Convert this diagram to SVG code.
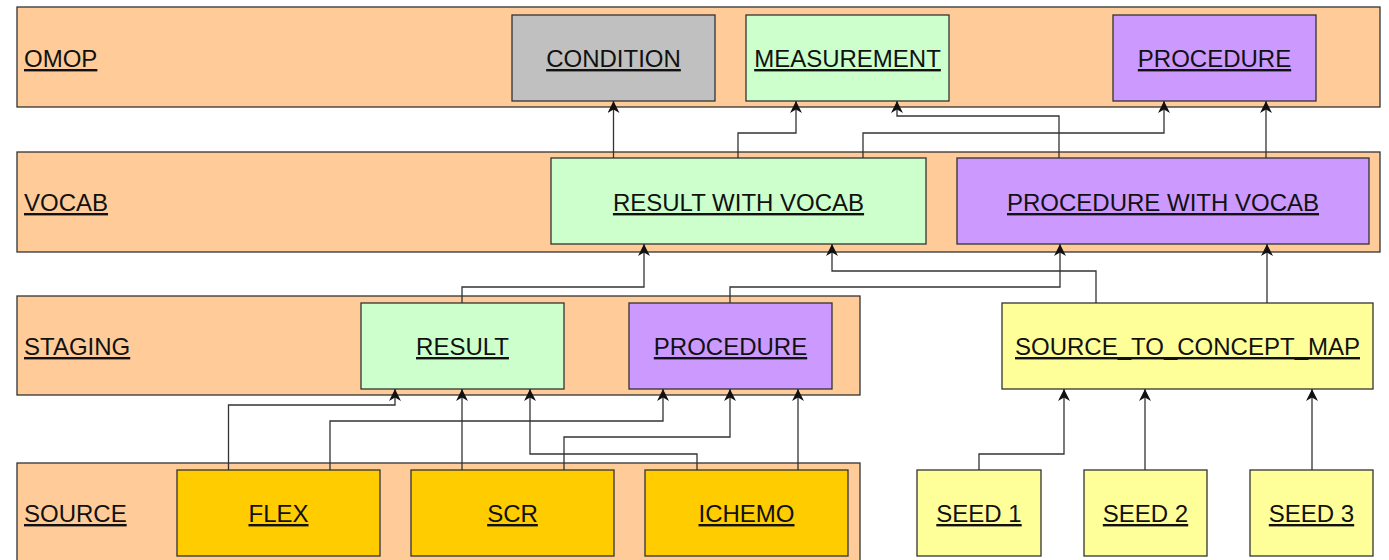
<svg xmlns="http://www.w3.org/2000/svg" width="1389" height="560" viewBox="0 0 1389 560">
<defs>
<marker id="arr" markerUnits="userSpaceOnUse" markerWidth="12" markerHeight="12" refX="10" refY="5" orient="auto" viewBox="0 0 10 10">
<path d="M0,0 L10,5 L0,10 L3,5 z" fill="#111"/>
</marker>
<style>
.lane{fill:#FFCC99;stroke:#333;stroke-width:1.3}
.nd{stroke:#333;stroke-width:1.3}
.t{font-family:"Liberation Sans",Arial,sans-serif;font-size:24px;fill:#111;text-decoration:underline}
.c{text-anchor:middle}
.gray{fill:#C0C0C0}.green{fill:#CCFFCC}.purple{fill:#CC99FF}.gold{fill:#FFCC00}.yellow{fill:#FFFF99}
.cn path{fill:none;stroke:#333;stroke-width:1.3;marker-end:url(#arr)}
</style>
</defs>
<rect width="1389" height="560" fill="#fff"/>
<g id="lanes">
<g id="lane-omop"><rect class="lane" x="17" y="7" width="1363" height="100"/><text class="t" x="24" y="67">OMOP</text></g>
<g id="lane-vocab"><rect class="lane" x="17" y="152" width="1363" height="100"/><text class="t" x="24" y="211">VOCAB</text></g>
<g id="lane-staging"><rect class="lane" x="17" y="296" width="843" height="99"/><text class="t" x="24" y="355">STAGING</text></g>
<g id="lane-source"><rect class="lane" x="17" y="463" width="843" height="110"/><text class="t" x="24" y="522">SOURCE</text></g>
</g>
<g id="n-condition"><rect class="nd gray" x="512" y="15" width="203" height="86"/><text class="t c" x="613.5" y="67">CONDITION</text></g>
<g id="n-measurement"><rect class="nd green" x="746" y="15" width="203" height="86"/><text class="t c" x="847.5" y="67">MEASUREMENT</text></g>
<g id="n-procedure-omop"><rect class="nd purple" x="1113" y="15" width="203" height="86"/><text class="t c" x="1214.5" y="67">PROCEDURE</text></g>
<g id="n-result-vocab"><rect class="nd green" x="551" y="158" width="375" height="86"/><text class="t c" x="738.5" y="211">RESULT WITH VOCAB</text></g>
<g id="n-procedure-vocab"><rect class="nd purple" x="957" y="158" width="412" height="86"/><text class="t c" x="1163" y="211">PROCEDURE WITH VOCAB</text></g>
<g id="n-result"><rect class="nd green" x="361" y="303" width="203" height="86"/><text class="t c" x="462.5" y="355">RESULT</text></g>
<g id="n-procedure-staging"><rect class="nd purple" x="629" y="303" width="203" height="86"/><text class="t c" x="730.5" y="355">PROCEDURE</text></g>
<g id="n-stcm"><rect class="nd yellow" x="1002" y="303" width="371" height="86"/><text class="t c" x="1187.5" y="355">SOURCE_TO_CONCEPT_MAP</text></g>
<g id="n-flex"><rect class="nd gold" x="177" y="470" width="203" height="86"/><text class="t c" x="278.5" y="522">FLEX</text></g>
<g id="n-scr"><rect class="nd gold" x="411" y="470" width="203" height="86"/><text class="t c" x="512.5" y="522">SCR</text></g>
<g id="n-ichemo"><rect class="nd gold" x="645" y="470" width="203" height="86"/><text class="t c" x="746.5" y="522">ICHEMO</text></g>
<g id="n-seed1"><rect class="nd yellow" x="917" y="470" width="124" height="86"/><text class="t c" x="979" y="522">SEED 1</text></g>
<g id="n-seed2"><rect class="nd yellow" x="1084" y="470" width="123" height="86"/><text class="t c" x="1145.5" y="522">SEED 2</text></g>
<g id="n-seed3"><rect class="nd yellow" x="1250" y="470" width="123" height="86"/><text class="t c" x="1311.5" y="522">SEED 3</text></g>
<g id="connectors" class="cn">
<path d="M613.5,158 V101"/>
<path d="M738,158 V133 H796 V101"/>
<path d="M863,158 V133 H1164 V101"/>
<path d="M1059,158 V116 H897 V101"/>
<path d="M1266,158 V101"/>
<path d="M462,303 V287 H644 V244"/>
<path d="M730,303 V287 H1060 V244"/>
<path d="M1096,303 V271 H832 V244"/>
<path d="M1267,303 V244"/>
<path d="M228.5,470 V405 H395 V389"/>
<path d="M330,470 V421 H663 V389"/>
<path d="M462,470 V389"/>
<path d="M564,470 V437 H730 V389"/>
<path d="M697,470 V454 H530 V389"/>
<path d="M798,470 V389"/>
<path d="M979,470 V454 H1064 V389"/>
<path d="M1145,470 V389"/>
<path d="M1312,470 V389"/>
</g>
</svg>
